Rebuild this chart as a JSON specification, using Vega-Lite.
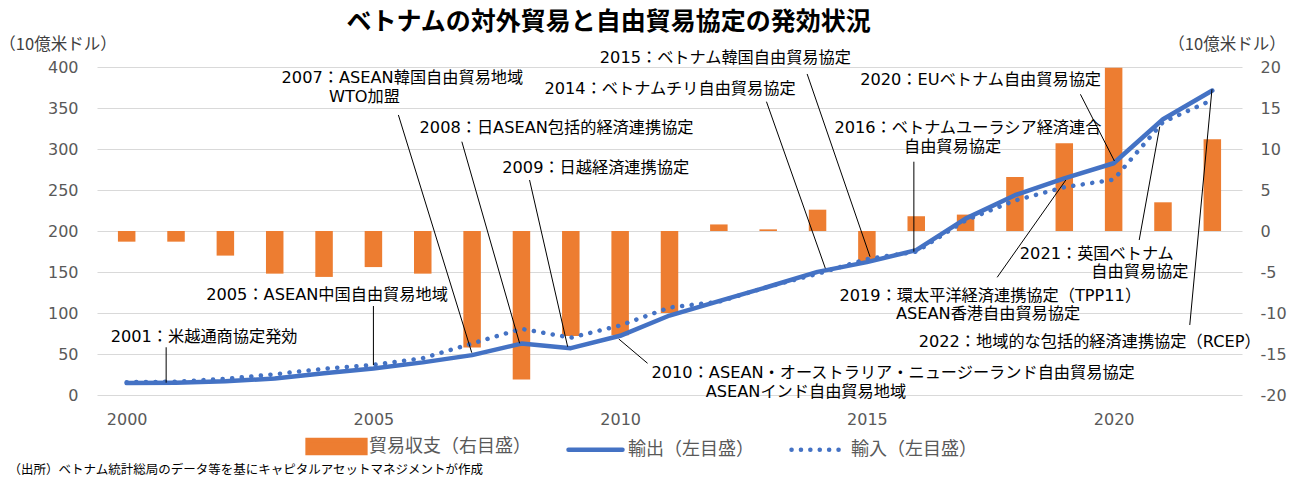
{
  "$schema": "https://vega.github.io/schema/vega-lite/v6.json",
  "autosize": {"type": "none"},
  "padding": {"left": 97, "top": 67, "right": 62, "bottom": 84},
  "width": 1145,
  "height": 328,
  "background": "white",
  "config": {"view": {"stroke": null}, "font": "Noto Sans CJK JP"},
  "title": {
    "text": "ベトナムの対外貿易と自由貿易協定の発効状況",
    "font": "Noto Sans CJK JP",
    "fontSize": 25,
    "fontWeight": "bold",
    "color": "#000000",
    "anchor": "middle",
    "dx": -61,
    "dy": 3,
    "offset": 4
  },
  "datasets": {
    "trade": [
      {"year": 2000, "exports": 14.5, "imports": 15.6, "balance": -1.3},
      {"year": 2001, "exports": 15.0, "imports": 16.2, "balance": -1.3},
      {"year": 2002, "exports": 16.7, "imports": 19.7, "balance": -3.0},
      {"year": 2003, "exports": 20.1, "imports": 25.3, "balance": -5.2},
      {"year": 2004, "exports": 26.5, "imports": 32.0, "balance": -5.6},
      {"year": 2005, "exports": 32.4, "imports": 36.8, "balance": -4.4},
      {"year": 2006, "exports": 39.8, "imports": 44.9, "balance": -5.2},
      {"year": 2007, "exports": 48.6, "imports": 62.8, "balance": -14.2},
      {"year": 2008, "exports": 62.7, "imports": 80.7, "balance": -18.1},
      {"year": 2009, "exports": 57.1, "imports": 69.9, "balance": -12.8},
      {"year": 2010, "exports": 72.2, "imports": 84.8, "balance": -12.7},
      {"year": 2011, "exports": 96.9, "imports": 106.7, "balance": -10.0},
      {"year": 2012, "exports": 114.5, "imports": 113.8, "balance": 0.8},
      {"year": 2013, "exports": 132.0, "imports": 132.0, "balance": 0.2},
      {"year": 2014, "exports": 150.2, "imports": 147.8, "balance": 2.6},
      {"year": 2015, "exports": 162.0, "imports": 165.8, "balance": -3.7},
      {"year": 2016, "exports": 176.6, "imports": 174.8, "balance": 1.8},
      {"year": 2017, "exports": 215.1, "imports": 213.0, "balance": 2.0},
      {"year": 2018, "exports": 243.7, "imports": 237.2, "balance": 6.6},
      {"year": 2019, "exports": 264.2, "imports": 253.4, "balance": 10.7},
      {"year": 2020, "exports": 282.6, "imports": 262.7, "balance": 19.9},
      {"year": 2021, "exports": 336.3, "imports": 332.9, "balance": 3.5},
      {"year": 2022, "exports": 371.3, "imports": 359.8, "balance": 11.2}
    ],
    "labels": [
      {"t": "2001：米越通商協定発効", "x": 2001.569, "y": 71.1},
      {"t": "2005：ASEAN中国自由貿易地域", "x": 2004.06, "y": 122.0},
      {"t": "2007：ASEAN韓国自由貿易地域", "x": 2005.587, "y": 387.0},
      {"t": "WTO加盟", "x": 2004.817, "y": 363.8},
      {"t": "2008：日ASEAN包括的経済連携協定", "x": 2008.711, "y": 326.0},
      {"t": "2009：日越経済連携協定", "x": 2009.504, "y": 276.5},
      {"t": "2010：ASEAN・オーストラリア・ニュージーランド自由貿易協定", "x": 2015.531, "y": 26.5},
      {"t": "ASEANインド自由貿易地域", "x": 2013.763, "y": 4.0},
      {"t": "2014：ベトナムチリ自由貿易協定", "x": 2011.011, "y": 372.8},
      {"t": "2015：ベトナム韓国自由貿易協定", "x": 2012.132, "y": 410.6},
      {"t": "2016：ベトナムユーラシア経済連合", "x": 2017.047, "y": 325.2},
      {"t": "自由貿易協定", "x": 2016.736, "y": 302.8},
      {"t": "2020：EUベトナム自由貿易協定", "x": 2017.304, "y": 384.1},
      {"t": "2019：環太平洋経済連携協定（TPP11）", "x": 2017.5, "y": 120.7},
      {"t": "ASEAN香港自由貿易協定", "x": 2017.455, "y": 98.8},
      {"t": "2021：英国ベトナム", "x": 2019.659, "y": 172.0},
      {"t": "自由貿易協定", "x": 2020.533, "y": 150.4},
      {"t": "2022：地域的な包括的経済連携協定（RCEP）", "x": 2019.514, "y": 65.0}
    ],
    "leaders": [
      {"x": 2000.8, "y": 58.2, "x2": 2000.8, "y2": 15.0},
      {"x": 2005.0, "y": 108.5, "x2": 2005.0, "y2": 36.6},
      {"x": 2005.506, "y": 341.5, "x2": 2006.993, "y2": 51.6},
      {"x": 2006.792, "y": 308.9, "x2": 2007.963, "y2": 63.0},
      {"x": 2008.164, "y": 262.2, "x2": 2008.936, "y2": 58.9},
      {"x": 2009.972, "y": 68.3, "x2": 2010.555, "y2": 38.7},
      {"x": 2012.965, "y": 357.7, "x2": 2014.158, "y2": 154.5},
      {"x": 2013.789, "y": 391.5, "x2": 2015.063, "y2": 168.7},
      {"x": 2015.952, "y": 284.5, "x2": 2015.952, "y2": 174.8},
      {"x": 2019.327, "y": 366.7, "x2": 2020.016, "y2": 285.4},
      {"x": 2017.64, "y": 143.5, "x2": 2019.032, "y2": 262.2},
      {"x": 2020.518, "y": 189.0, "x2": 2020.934, "y2": 327.2},
      {"x": 2021.543, "y": 85.4, "x2": 2021.993, "y2": 372.8}
    ]
  },
  "layer": [
    {
      "data": {"name": "trade"},
      "mark": {"type": "bar", "size": 17.5},
      "encoding": {
        "x": {
          "field": "year",
          "type": "quantitative",
          "scale": {"domain": [1999.5, 2022.5], "nice": false, "zero": false},
          "axis": {
            "values": [2000, 2005, 2010, 2015, 2020],
            "format": "d",
            "labelFont": "DejaVu Sans",
            "labelFontSize": 16,
            "labelColor": "#595959",
            "labelPadding": 16,
            "ticks": false,
            "tickSize": 0,
            "domain": false,
            "grid": false,
            "labelFlush": false,
            "title": "（出所）ベトナム統計総局のデータ等を基にキャピタルアセットマネジメントが作成",
            "titleFont": "Noto Sans CJK JP",
            "titleFontSize": 12.5,
            "titleFontWeight": "normal",
            "titleColor": "#000000",
            "titleAlign": "left",
            "titleBaseline": "middle",
            "titleX": -89,
            "titleY": 74
          }
        },
        "y": {
          "field": "balance",
          "type": "quantitative",
          "scale": {"domain": [-20, 20], "nice": false},
          "axis": {
            "orient": "right",
            "values": [-20, -15, -10, -5, 0, 5, 10, 15, 20],
            "labelExpr": "'' + datum.value",
            "labelFont": "DejaVu Sans",
            "labelFontSize": 16,
            "labelColor": "#595959",
            "labelPadding": 18,
            "ticks": false,
            "tickSize": 0,
            "domain": false,
            "grid": false,
            "title": "（10億米ドル）",
            "titleAngle": 0,
            "titleX": -15.5,
            "titleY": -23,
            "titleAlign": "center",
            "titleBaseline": "middle",
            "titleFont": "Noto Sans CJK JP",
            "titleFontSize": 16.5,
            "titleFontWeight": "normal",
            "titleColor": "#404040"
          }
        },
        "color": {
          "datum": "貿易収支（右目盛）",
          "type": "nominal",
          "scale": {
            "domain": ["貿易収支（右目盛）", "輸出（左目盛）", "輸入（左目盛）"],
            "range": ["#ED7D31", "#4472C4", "#4472C4"]
          },
          "legend": {
            "orient": "none",
            "legendX": 210,
            "legendY": 350,
            "direction": "horizontal",
            "title": null,
            "symbolSize": 2916,
            "labelFont": "Noto Sans CJK JP",
            "labelFontSize": 18,
            "labelColor": "#595959",
            "labelOffset": 3,
            "labelLimit": 400,
            "columnPadding": 28,
            "encode": {
              "symbols": {
                "update": {
                  "shape": {"signal": "datum.value === '貿易収支（右目盛）' ? 'M-1.07,-0.24H1.07V0.24H-1.07Z' : 'stroke'"},
                  "fill": {"signal": "datum.value === '貿易収支（右目盛）' ? '#ED7D31' : 'transparent'"},
                  "stroke": {"signal": "datum.value === '貿易収支（右目盛）' ? 'transparent' : '#4472C4'"},
                  "strokeWidth": {"value": 4.5},
                  "strokeDash": {"signal": "datum.value === '輸入（左目盛）' ? [0.1, 9.3] : [1, 0]"},
                  "strokeCap": {"value": "round"},
                  "opacity": {"value": 1}
                }
              }
            }
          }
        }
      }
    },
    {
      "layer": [
        {
          "data": {"name": "trade"},
          "mark": {"type": "line", "strokeWidth": 4.5, "strokeCap": "round", "strokeJoin": "round"},
          "encoding": {
            "x": {"field": "year", "type": "quantitative", "scale": {"domain": [1999.5, 2022.5], "nice": false, "zero": false}},
            "y": {
              "field": "exports",
              "type": "quantitative",
              "scale": {"domain": [0, 400], "nice": false},
              "axis": {
                "orient": "left",
                "values": [0, 50, 100, 150, 200, 250, 300, 350, 400],
                "labelFont": "DejaVu Sans",
                "labelFontSize": 16,
                "labelColor": "#595959",
                "labelPadding": 19,
                "ticks": false,
                "tickSize": 0,
                "domain": false,
                "grid": true,
                "gridColor": "#D9D9D9",
                "gridWidth": 1,
                "title": "（10億米ドル）",
                "titleAngle": 0,
                "titleX": -39.5,
                "titleY": -23,
                "titleAlign": "center",
                "titleBaseline": "middle",
                "titleFont": "Noto Sans CJK JP",
                "titleFontSize": 16.5,
                "titleFontWeight": "normal",
                "titleColor": "#404040"
              }
            },
            "color": {"datum": "輸出（左目盛）", "type": "nominal"}
          }
        },
        {
          "data": {"name": "trade"},
          "mark": {"type": "line", "strokeWidth": 4.5, "strokeCap": "round", "strokeDash": [0.1, 9.5]},
          "encoding": {
            "x": {"field": "year", "type": "quantitative", "scale": {"domain": [1999.5, 2022.5], "nice": false, "zero": false}},
            "y": {"field": "imports", "type": "quantitative", "scale": {"domain": [0, 400], "nice": false}},
            "color": {"datum": "輸入（左目盛）", "type": "nominal"}
          }
        },
        {
          "data": {"name": "leaders"},
          "mark": {"type": "rule", "color": "#000000", "strokeWidth": 1},
          "encoding": {
            "x": {"field": "x", "type": "quantitative", "scale": {"domain": [1999.5, 2022.5], "nice": false, "zero": false}},
            "y": {"field": "y", "type": "quantitative", "scale": {"domain": [0, 400], "nice": false}},
            "x2": {"field": "x2"},
            "y2": {"field": "y2"}
          }
        },
        {
          "data": {"name": "labels"},
          "mark": {"type": "text", "font": "'DejaVu Sans', 'Noto Sans CJK JP'", "fontSize": 16.2, "align": "center", "baseline": "middle", "color": "#000000"},
          "encoding": {
            "x": {"field": "x", "type": "quantitative", "scale": {"domain": [1999.5, 2022.5], "nice": false, "zero": false}},
            "y": {"field": "y", "type": "quantitative", "scale": {"domain": [0, 400], "nice": false}},
            "text": {"field": "t"}
          }
        }
      ]
    }
  ],
  "resolve": {"scale": {"y": "independent"}}
}
